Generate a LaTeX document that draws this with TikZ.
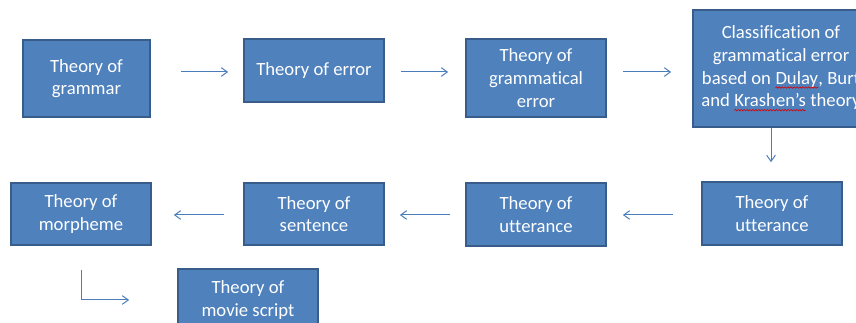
\documentclass[tikz,border=0pt]{standalone}
\usepackage{fontspec}
\setmainfont{Carlito}[Ligatures=NoCommon]
\usetikzlibrary{arrows.meta,decorations.pathmorphing}
\definecolor{boxfill}{HTML}{4F81BD}
\definecolor{boxedge}{HTML}{385D8A}
\definecolor{arrowc}{HTML}{4A7EBB}
\newcommand\squig[1]{\tikz[baseline=(w.base),x=1pt,y=1pt]{\node[draw=none,fill=none,inner sep=0pt,outer sep=0pt,minimum width=0pt,minimum height=0pt,anchor=base,text=white](w){#1};\draw[red!85!black,line width=0.45pt,decorate,decoration={snake,amplitude=0.55pt,segment length=2.2pt}]([yshift=-2.6pt]w.base west)--([yshift=-2.6pt]w.base east);}}
\tikzset{
  box/.style={draw=boxedge, line width=1.3pt, fill=boxfill, text=white, align=center,
    font=\fontsize{14}{17}\selectfont, inner sep=0pt},
  arr/.style={draw=arrowc, line width=0.75pt, -{Straight Barb[length=4.5pt,width=6.5pt]}}
}
\begin{document}
\begin{tikzpicture}[x=0.75pt,y=-0.75pt]
\useasboundingbox (0,0) rectangle (856,323);
\clip (0,0) rectangle (856,323);
\node[box, minimum width=95.25pt, minimum height=57.75pt] (g1) at (86.5,78.5) {Theory of\\grammar};
\node[box, minimum width=105pt, minimum height=47.25pt] (g2) at (314,70.5) {Theory of error};
\node[box, minimum width=105pt, minimum height=58.5pt] (g3) at (536,78) {Theory of\\grammatical\\error};
\node[box, minimum width=132pt, minimum height=87.75pt] (g4) at (781,68.5) {Classification of\\grammatical error\\based on \squig{Dulay}, Burt\\and \squig{Krashen’s} theory};
\node[box, minimum width=105pt, minimum height=47.25pt] (u2) at (772,213.5) {Theory of\\utterance};
\node[box, minimum width=105pt, minimum height=47.25pt] (u1) at (536,214.5) {Theory of\\utterance};
\node[box, minimum width=105pt, minimum height=46.5pt] (s) at (314,214) {Theory of\\sentence};
\node[box, minimum width=105pt, minimum height=46.5pt] (m) at (81,214) {Theory of\\morpheme};
\node[box, minimum width=105pt, minimum height=46.5pt] (mv) at (248,300) {Theory of\\movie script};
\coordinate (r1) at (0,72);
\coordinate (r2) at (0,215);
\draw[arr, shorten <=22.5pt, shorten >=11.25pt] (g1.east |- r1) -- (g2.west |- r1);
\draw[arr, shorten <=12pt, shorten >=12.75pt] (g2.east |- r1) -- (g3.west |- r1);
\draw[arr, shorten <=12pt, shorten >=15.75pt] (g3.east |- r1) -- (g4.west |- r1);
\draw[arr, shorten >=14.25pt] ([xshift=-7.5pt]g4.south) -- ([xshift=-7.5pt]g4.south |- u2.north);
\draw[arr, shorten <=21pt, shorten >=12pt] (u2.west |- r2) -- (u1.east |- r2);
\draw[arr, shorten <=11.25pt, shorten >=11.25pt] (u1.west |- r2) -- (s.east |- r2);
\draw[arr, shorten <=14.25pt, shorten >=16.5pt] (s.west |- r2) -- (m.east |- r2);
\draw[arr, shorten <=18pt, shorten >=36pt] (m.south) |- (mv.west);
\end{tikzpicture}
\end{document}
